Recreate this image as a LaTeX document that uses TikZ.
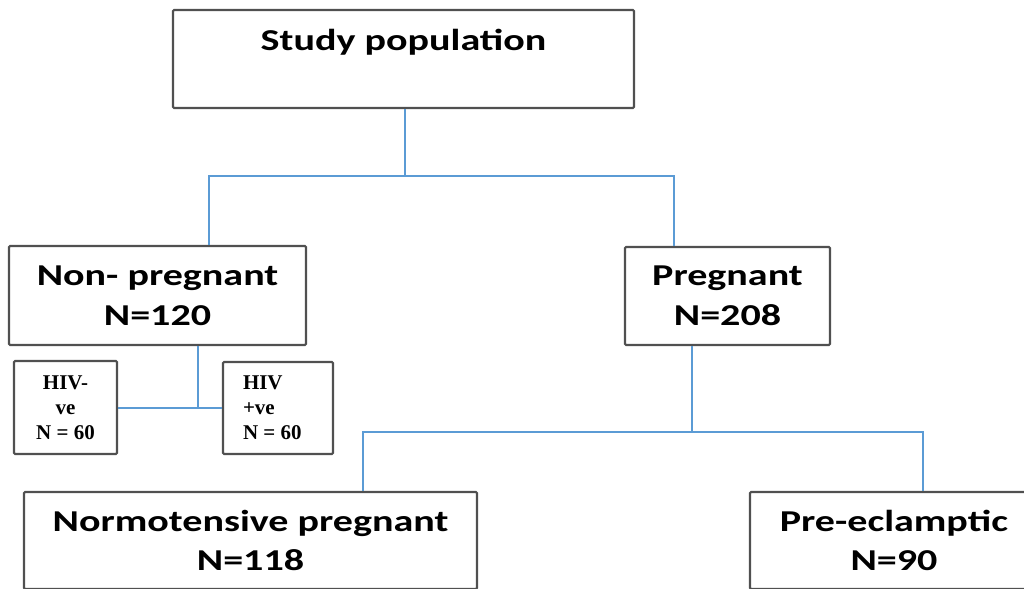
\documentclass[tikz,border=0pt]{standalone}
\usepackage{fontspec}
\usepackage{tikz}
\usetikzlibrary{positioning,calc}
\usepackage{xcolor}
\definecolor{linkblue}{RGB}{91,155,213}
\definecolor{boxgray}{RGB}{80,80,80}
\newfontfamily\calfont[FakeStretch=1.32]{Carlito}
\newfontfamily\serffont{Liberation Serif}

\begin{document}
\begin{tikzpicture}[
    x=0.03cm, y=-0.03cm,
    box/.style={rectangle, draw=boxgray, line width=1.8pt, rounded corners=1pt, align=center, inner sep=0pt, font=\calfont\bfseries\fontsize{25.9}{34}\selectfont},
    smallbox/.style={box, font=\serffont\bfseries\fontsize{17.9}{21.5}\selectfont},
    link/.style={draw=linkblue, line width=1.6pt}
]
\useasboundingbox (0,0) rectangle (1024,589);
\clip (0,0) rectangle (1024,589);

% Top level
\node[box, minimum width=13.83cm, minimum height=2.94cm, text height=18pt, text depth=33pt] (study) at (403.5,59) {Study population};

% Second level
\node[box, minimum width=8.91cm, minimum height=2.97cm] (nonpreg) at (157.5,295.5) {Non- pregnant\\N=120};
\node[box, minimum width=6.15cm, minimum height=2.94cm] (preg) at (727.5,296) {Pregnant\\N=208};

% HIV status
\node[smallbox, minimum width=3.09cm, minimum height=2.79cm] (hivneg) at (65.5,407.5) {HIV-\\ve\\N = 60};
\node[smallbox, minimum width=3.3cm, minimum height=2.76cm, text width=2.1cm, align=flush left] (hivpos) at (278,408) {HIV\\+ve\\N = 60};

% Pregnancy outcome
\node[box, minimum width=13.59cm, minimum height=2.91cm] (normo) at (250.5,540.5) {Normotensive pregnant\\N=118};
\node[box, minimum width=8.64cm, minimum height=2.91cm] (preecl) at (894,540.5) {Pre-eclamptic\\N=90};

% Junctions
\coordinate (j1) at (405,176);
\coordinate (j1l) at (209,176);
\coordinate (j1r) at (674,176);
\coordinate (j2) at (198,408);
\coordinate (j3) at (692,432);
\coordinate (j3l) at (363,432);
\coordinate (j3r) at (923,432);

% Connectors
\draw[link] (study.south -| j1) -- (j1);
\draw[link] (j1l |- nonpreg.north) -- (j1l) -- (j1r) -- (j1r |- preg.north);
\draw[link] (nonpreg.south -| j2) -- (j2);
\draw[link] (hivneg.east |- j2) -- (hivpos.west |- j2);
\draw[link] (preg.south -| j3) -- (j3);
\draw[link] (j3l |- normo.north) -- (j3l) -- (j3r) -- (j3r |- preecl.north);
\end{tikzpicture}
\end{document}
